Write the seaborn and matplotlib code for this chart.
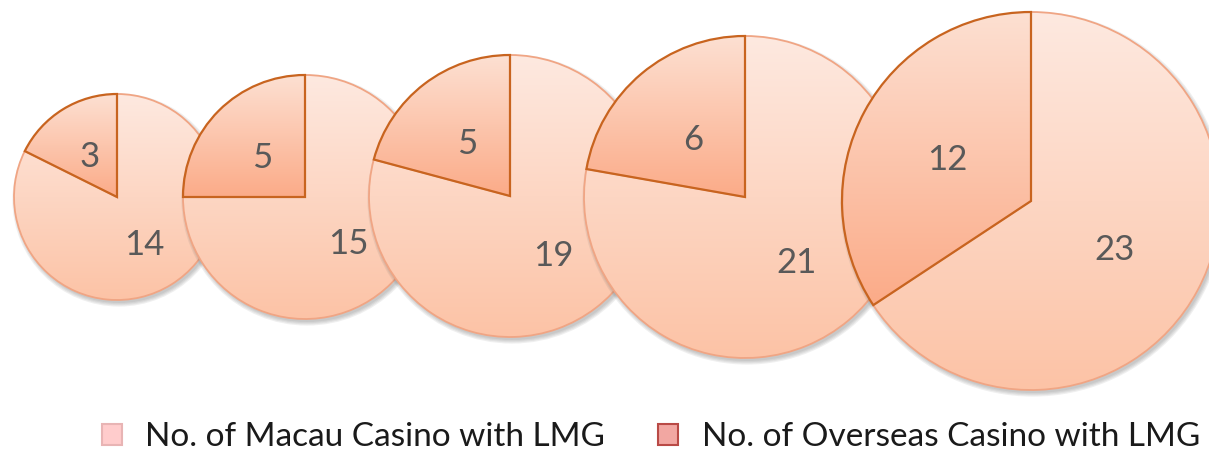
import numpy as np
import seaborn as sns
import matplotlib.pyplot as plt
from matplotlib.patches import Patch, Circle
from matplotlib.transforms import offset_copy

# dados
macau = [14, 15, 19, 21, 23]
overseas = [3, 5, 5, 6, 12]
legend_labels = ["No. of Macau Casino with LMG", "No. of Overseas Casino with LMG"]

# layout (pixels, y para cima)
centros_x = [117, 305, 510, 745, 1031]
centros_y = [253, 253, 254, 253, 249]
raios = [103, 122, 141, 161, 189]

sns.set_theme(style="white")
plt.rcParams["font.family"] = ["Lato", "DejaVu Sans"]

# cores (gradiente de cima pra baixo)
macau_cores = ("#fee9e0", "#fcc3a6")
overseas_cores = ("#fde0d2", "#fbab88")
macau_borda = "#f0a584"
overseas_borda = "#c8641f"


def gradiente(c1, c2, n=256):
    a = np.array(plt.matplotlib.colors.to_rgb(c1))
    b = np.array(plt.matplotlib.colors.to_rgb(c2))
    t = np.linspace(0, 1, n)[:, None]
    return (a + (b - a) * t)[:, None, :]


fig = plt.figure(figsize=(12.09, 4.5), dpi=100)
ax = fig.add_axes([0, 0, 1, 1])

for i in range(len(macau)):
    base = 10 * i
    cx, cy, r = centros_x[i], centros_y[i], raios[i]
    total = macau[i] + overseas[i]

    # sombra
    for k in range(4):
        ax.add_patch(Circle((cx + 2, cy - 3), r + 1.2 * k, color="#555555",
                            alpha=0.09, lw=0, zorder=base))

    wedges, _, textos = ax.pie(
        [overseas[i], macau[i]], radius=r, center=(cx, cy), startangle=90,
        counterclock=True, frame=True,
        autopct=lambda p, t=total: f"{round(p * t / 100):d}", pctdistance=0.5,
        textprops=dict(fontsize=25, color="#595959"),
    )
    cores = [overseas_cores, macau_cores]
    bordas = [overseas_borda, macau_borda]
    for j, w in enumerate(wedges):
        ext = w.get_path().get_extents()
        img = ax.imshow(gradiente(*cores[j]), extent=(ext.x0, ext.x1, ext.y0, ext.y1),
                        origin="upper", aspect="auto", interpolation="bilinear",
                        zorder=base + 1)
        img.set_clip_path(w)
        w.set_facecolor("none")
        w.set_edgecolor(bordas[j])
        w.set_linewidth(1.6 if j == 0 else 1.3)
        w.set_zorder(base + 3 if j == 0 else base + 2)
    for t in textos:
        t.set_zorder(base + 4)
        t.set_transform(offset_copy(ax.transData, fig=fig, y=-3, units="points"))

ax.set_xlim(0, 1209)
ax.set_ylim(0, 450)
ax.set_aspect("equal")
ax.axis("off")

handles = [
    Patch(facecolor="#ffcccc", edgecolor="#e8b4b4", lw=1.5),
    Patch(facecolor="#f2a7a2", edgecolor="#b94a46", lw=1.5),
]
fig.legend(handles, legend_labels, loc="center", bbox_to_anchor=(651 / 1209, 1 - 437 / 450),
           ncol=2, frameon=False, fontsize=24, handlelength=0.6, handleheight=0.6,
           handletextpad=0.7, columnspacing=1.6, labelcolor="#1a1a1a")

fig.savefig("out.png", dpi=100)
